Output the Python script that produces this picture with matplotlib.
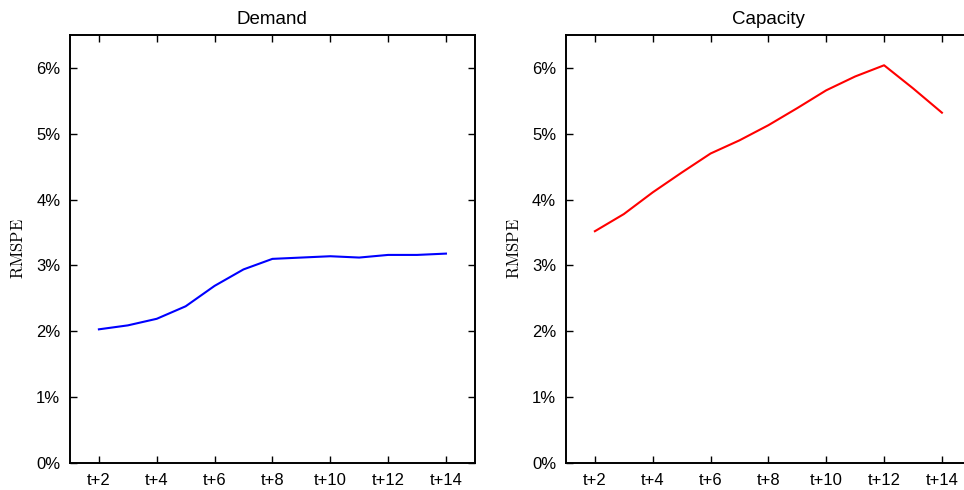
import matplotlib
matplotlib.use("Agg")
import matplotlib.pyplot as plt
import numpy as np

# forecast horizons t+2 ... t+14
horizons = [2, 3, 4, 5, 6, 7, 8, 9, 10, 11, 12, 13, 14]
tick_pos = [2, 4, 6, 8, 10, 12, 14]
tick_labels = ["t+2", "t+4", "t+6", "t+8", "t+10", "t+12", "t+14"]

# RMSPE in percent
demand_rmspe = [2.03, 2.09, 2.19, 2.38, 2.69, 2.94, 3.10, 3.12, 3.14, 3.12, 3.16, 3.16, 3.18]
capacity_rmspe = [3.52, 3.78, 4.11, 4.41, 4.70, 4.90, 5.13, 5.39, 5.66, 5.87, 6.04, 5.69, 5.32]

plt.rcParams["font.family"] = ["Liberation Sans", "DejaVu Sans"]
plt.rcParams["mathtext.fontset"] = "cm"

fig = plt.figure(figsize=(9.64, 4.9), dpi=100)
ax1 = fig.add_axes([0.0726, 0.0551, 0.420, 0.8735])
ax2 = fig.add_axes([0.5871, 0.0551, 0.420, 0.8735])


def style_axes(ax, title):
    ax.set_xlim(1, 15)
    ax.set_ylim(0, 6.5)
    ax.set_xticks(tick_pos)
    ax.set_xticklabels(tick_labels)
    ax.set_yticks(range(0, 7))
    ax.set_yticklabels(["%d%%" % v for v in range(0, 7)])
    ax.tick_params(direction="in", top=True, right=True, length=5, width=1,
                   labelsize=12, pad=7)
    for sp in ax.spines.values():
        sp.set_linewidth(1.4)
    ax.set_title(title, fontsize=13.5, pad=8)
    ax.set_ylabel(r"$\mathrm{RMSPE}$", fontsize=12, labelpad=7)


ax1.plot(horizons, demand_rmspe, color="blue", lw=1.5)
style_axes(ax1, "Demand")

ax2.plot(horizons, capacity_rmspe, color="red", lw=1.5)
style_axes(ax2, "Capacity")

plt.savefig("out.png", dpi=100)
